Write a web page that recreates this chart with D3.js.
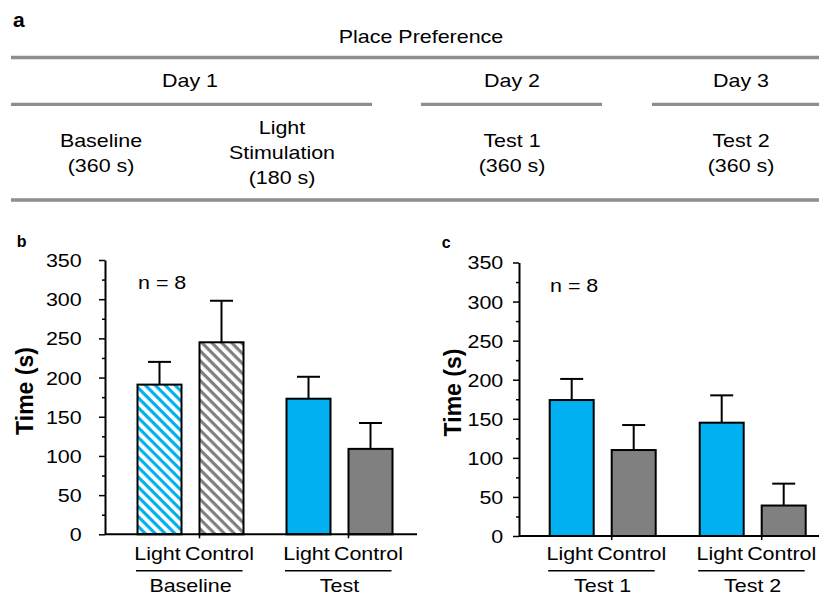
<!DOCTYPE html>
<html>
<head>
<meta charset="utf-8">
<script src="https://cdn.jsdelivr.net/npm/d3@7"></script>
<style>
body { margin: 0; background: #fff; }
svg { display: block; font-family: "Liberation Sans", Arial, sans-serif; }
</style>
</head>
<body>
<svg width="819" height="597"></svg>
<script>
// panel a - protocol table
const placeTitle = "Place Preference";
const dayNames = ["Day 1", "Day 2", "Day 3"];
const phaseLines = [["Baseline", "(360 s)"], ["Light", "Stimulation", "(180 s)"], ["Test 1", "(360 s)"], ["Test 2", "(360 s)"]];

// panels b and c - time in light-paired side (s), mean and SEM
const seriesNames = ["Light", "Control"];

const groupsB = ["Baseline", "Test"];
const lightB = [191, 173];
const controlB = [245, 109];
const lightSemB = [29, 28];
const controlSemB = [53, 33];

const groupsC = ["Test 1", "Test 2"];
const lightC = [174, 145];
const controlC = [110, 39];
const lightSemC = [27, 35];
const controlSemC = [32, 28];

const yMax = 350;
const yStep = 50;
const nLabel = "n = 8";
const yTitle = "Time (s)";

const blue = "#00b0f0";
const gray = "#808080";
const SX = 1.16; // source text is a bit wide

const svg = d3.select("svg");
const defs = svg.append("defs");

function hatch(id, color) {
    const p = defs.append("pattern").attr("id", id)
        .attr("patternUnits", "userSpaceOnUse")
        .attr("width", 7).attr("height", 7)
        .attr("patternTransform", "rotate(45)");
    p.append("rect").attr("width", 7).attr("height", 7).attr("fill", "#fff");
    p.append("rect").attr("width", 7).attr("height", 3.2).attr("fill", color);
}
hatch("hatch-Light", blue);
hatch("hatch-Control", gray);

function txt(g, x, y, s, o = {}) {
    return g.append("text")
        .attr("transform", `translate(${x},${y}) scale(${o.sx ?? SX},1)`)
        .attr("text-anchor", o.anchor || "middle")
        .attr("font-size", o.size || 18.5)
        .attr("font-weight", o.weight || "normal")
        .attr("fill", "#000")
        .text(s);
}

/* ---------- panel a ---------- */
const ga = svg.append("g");
txt(ga, 13, 27, "a", { anchor: "start", size: 21, weight: "bold", sx: 1 });
txt(ga, 421, 43, placeTitle);

const rule = (x1, x2, y) => ga.append("line")
    .attr("x1", x1).attr("x2", x2).attr("y1", y).attr("y2", y)
    .attr("stroke", "#8e8e8e").attr("stroke-width", 3.3);
rule(11, 819, 57.5);
rule(11, 372, 104.3);
rule(421, 602, 104.3);
rule(652, 819, 104.3);
rule(11, 819, 200);

const dayX = [190, 512, 741];
dayNames.forEach((d, i) => txt(ga, dayX[i], 87, d));

const phaseX = [101, 282, 512, 741];
phaseLines.forEach((lines, i) => {
    lines.forEach((s, j) => txt(ga, phaseX[i], 159 + (j - (lines.length - 1) / 2) * 25, s));
});

/* ---------- panels b and c ---------- */
function panel(cfg) {
    const g = svg.append("g");
    const y = d3.scaleLinear().domain([0, yMax]).range([cfg.y0, cfg.y1]);
    const step = cfg.c2 - cfg.c1;
    const x0 = d3.scaleBand().domain(cfg.groups).range([cfg.c1 - step / 2, cfg.c2 + step / 2]);
    const x1 = d3.scaleBand().domain(seriesNames)
        .range([step / 2 - 62, step / 2 + 62])
        .paddingInner(18 / 62).paddingOuter(9 / 62);

    const rows = cfg.groups.flatMap((grp, i) => [
        { grp, s: "Light", v: cfg.light[i], e: cfg.lightSem[i], hatch: cfg.hatched[i] },
        { grp, s: "Control", v: cfg.control[i], e: cfg.controlSem[i], hatch: cfg.hatched[i] }
    ]);
    const cx = d => x0(d.grp) + x1(d.s) + x1.bandwidth() / 2;

    // error bars (upper only)
    g.selectAll(".err").data(rows).enter().append("line")
        .attr("x1", cx).attr("x2", cx)
        .attr("y1", d => y(d.v)).attr("y2", d => y(d.v + d.e))
        .attr("stroke", "#000").attr("stroke-width", 2);
    g.selectAll(".cap").data(rows).enter().append("line")
        .attr("x1", d => cx(d) - 11.5).attr("x2", d => cx(d) + 11.5)
        .attr("y1", d => y(d.v + d.e)).attr("y2", d => y(d.v + d.e))
        .attr("stroke", "#000").attr("stroke-width", 2);

    g.selectAll(".bar").data(rows).enter().append("rect")
        .attr("x", d => x0(d.grp) + x1(d.s))
        .attr("y", d => y(d.v))
        .attr("width", x1.bandwidth())
        .attr("height", d => y(0) - y(d.v))
        .attr("fill", d => d.hatch ? `url(#hatch-${d.s})` : (d.s === "Light" ? blue : gray))
        .attr("stroke", "#000").attr("stroke-width", 2);

    // x axis line and small category ticks
    g.append("line").attr("x1", cfg.ax).attr("x2", cfg.xEnd)
        .attr("y1", y(0)).attr("y2", y(0))
        .attr("stroke", "#000").attr("stroke-width", 2);
    g.selectAll(".xt").data(cfg.groups).enter().append("line")
        .attr("x1", d => x0(d) + x1("Control")).attr("x2", d => x0(d) + x1("Control"))
        .attr("y1", y(0)).attr("y2", y(0) + 4)
        .attr("stroke", "#000").attr("stroke-width", 1.5);

    // y axis
    const minor = g.append("g").attr("transform", `translate(${cfg.ax},0)`)
        .call(d3.axisLeft(y).tickValues(d3.range(yStep / 2, yMax, yStep)).tickSize(3).tickFormat(""));
    minor.select(".domain").remove();
    minor.selectAll(".tick line").attr("stroke-width", 1.5);

    const ax = g.append("g").attr("transform", `translate(${cfg.ax},0)`)
        .attr("font-family", null).attr("font-size", 18.5)
        .call(d3.axisLeft(y).tickValues(d3.range(0, yMax + 1, yStep)).tickSize(6).tickSizeOuter(0));
    ax.attr("font-family", null).attr("font-size", 18.5);
    ax.select(".domain").attr("stroke-width", 2);
    ax.selectAll(".tick line").attr("stroke-width", 1.5);
    ax.selectAll(".tick text")
        .attr("x", 0).attr("dy", "0.35em")
        .attr("transform", `translate(${-cfg.labelGap},0) scale(${SX},1)`);

    // y title
    g.append("text")
        .attr("transform", `translate(${cfg.titleX},${cfg.titleY}) rotate(-90)`)
        .attr("text-anchor", "middle").attr("font-size", 23).attr("font-weight", "bold")
        .text(yTitle);

    txt(g, cfg.ax + cfg.nDx, cfg.nY, nLabel, { anchor: "start" });
    txt(g, cfg.letterX, cfg.letterY, cfg.letter, { anchor: "start", size: 16, weight: "bold", sx: 1 });

    // category labels and group brackets
    rows.forEach(d => txt(g, cx(d) - 2, 560, d.s));
    cfg.groups.forEach(grp => {
        const m = x0(grp) + x0.bandwidth() / 2;
        g.append("line").attr("x1", m - 54.5).attr("x2", m + 52)
            .attr("y1", 570.7).attr("y2", 570.7)
            .attr("stroke", "#000").attr("stroke-width", 1.5);
        txt(g, m, 592, grp);
    });
}

panel({
    groups: groupsB, light: lightB, control: controlB, lightSem: lightSemB, controlSem: controlSemB,
    hatched: [true, false],
    y0: 534.3, y1: 260, c1: 190.5, c2: 339.5, ax: 105, xEnd: 417, labelGap: 23.3,
    titleX: 33.3, titleY: 391, nDx: 33, nY: 288.5, letter: "b", letterX: 16.7, letterY: 246.7
});
panel({
    groups: groupsC, light: lightC, control: controlC, lightSem: lightSemC, controlSem: controlSemC,
    hatched: [false, false],
    y0: 536, y1: 262.5, c1: 602.7, c2: 752.7, ax: 519, xEnd: 819, labelGap: 15.7,
    titleX: 460.7, titleY: 392.5, nDx: 31, nY: 291.5, letter: "c", letterX: 441.7, letterY: 248.3
});
</script>
</body>
</html>
